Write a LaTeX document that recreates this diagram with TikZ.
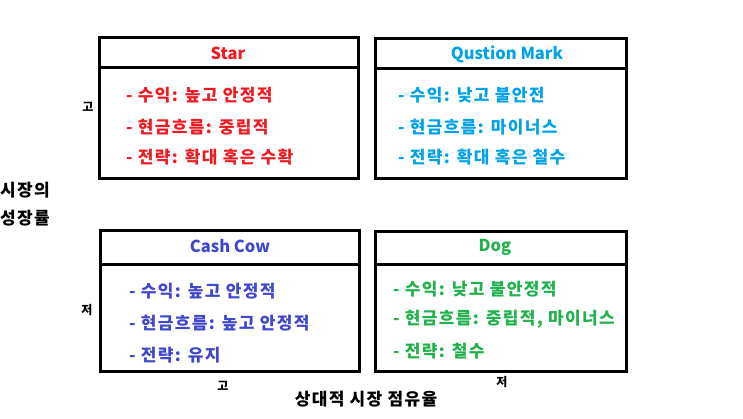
\documentclass[tikz,border=0pt]{standalone}
\usepackage{fontspec}
\setmainfont{Noto Sans CJK KR}
\newfontfamily\korsp[LetterSpace=8]{Noto Sans CJK KR}
\definecolor{cstar}{RGB}{237,28,36}
\definecolor{cq}{RGB}{0,162,232}
\definecolor{ccow}{RGB}{63,72,204}
\definecolor{cdog}{RGB}{34,177,76}
\tikzset{
  quad/.style={draw=black, line width=3pt},
  head/.style={font=\bfseries\fontsize{16.5}{19}\selectfont, inner sep=0pt},
  item/.style={font=\korsp\bfseries\fontsize{17}{20}\selectfont, anchor=west, inner sep=0pt},
  tick/.style={font=\korsp\bfseries\fontsize{12}{14}\selectfont, inner sep=0pt},
  axis/.style={font=\korsp\bfseries\fontsize{17}{20}\selectfont, inner sep=0pt}
}
\begin{document}
\begin{tikzpicture}[x=1pt,y=-1pt]
\useasboundingbox (0,0) rectangle (743,418);
% Star
\draw[quad] (99,37) rectangle (358,178);
\draw[quad] (99,67) -- (358,67);
\node[head, text=cstar] (starh) at (228,53) {Star};
\node[item, text=cstar] (s1) at (126,95) {- 수익: 높고 안정적};
\node[item, text=cstar] (s2) at (126,127) {- 현금흐름: 중립적};
\node[item, text=cstar] (s3) at (126,157) {- 전략: 확대 혹은 수확};
% Question Mark
\draw[quad] (375,38) rectangle (626,178);
\draw[quad] (375,68) -- (626,68);
\node[head, text=cq] (qh) at (507,54) {Qustion Mark};
\node[item, text=cq] (q1) at (398,95) {- 수익: 낮고 불안전};
\node[item, text=cq] (q2) at (398,127) {- 현금흐름: 마이너스};
\node[item, text=cq] (q3) at (398,157) {- 전략: 확대 혹은 철수};
% Cash Cow
\draw[quad] (100,230) rectangle (359,371);
\draw[quad] (100,264) -- (359,264);
\node[head, text=ccow] (ch) at (230,246) {Cash Cow};
\node[item, text=ccow] (c1) at (129,291) {- 수익: 높고 안정적};
\node[item, text=ccow] (c2) at (129,323) {- 현금흐름: 높고 안정적};
\node[item, text=ccow] (c3) at (129,355) {- 전략: 유지};
% Dog
\draw[quad] (375,231) rectangle (626,371);
\draw[quad] (375,264) -- (626,264);
\node[head, text=cdog] (dh) at (495,247) {Dog};
\node[item, text=cdog] (d1) at (393,289) {- 수익: 낮고 불안정적};
\node[item, text=cdog] (d2) at (393,319) {- 현금흐름: 중립적, 마이너스};
\node[item, text=cdog] (d3) at (393,351) {- 전략: 철수};
% axis labels
\node[tick] (yhi) at (88,107) {고};
\node[tick] (ylo) at (87,310) {저};
\node[tick] (xhi) at (223,386) {고};
\node[tick] (xlo) at (502,382) {저};
\node[axis, anchor=west] (ya1) at (0,190) {시장의};
\node[axis, anchor=west] (ya2) at (0,218) {성장률};
\node[axis] (xa) at (366,399) {상대적 시장 점유율};
\end{tikzpicture}
\end{document}
